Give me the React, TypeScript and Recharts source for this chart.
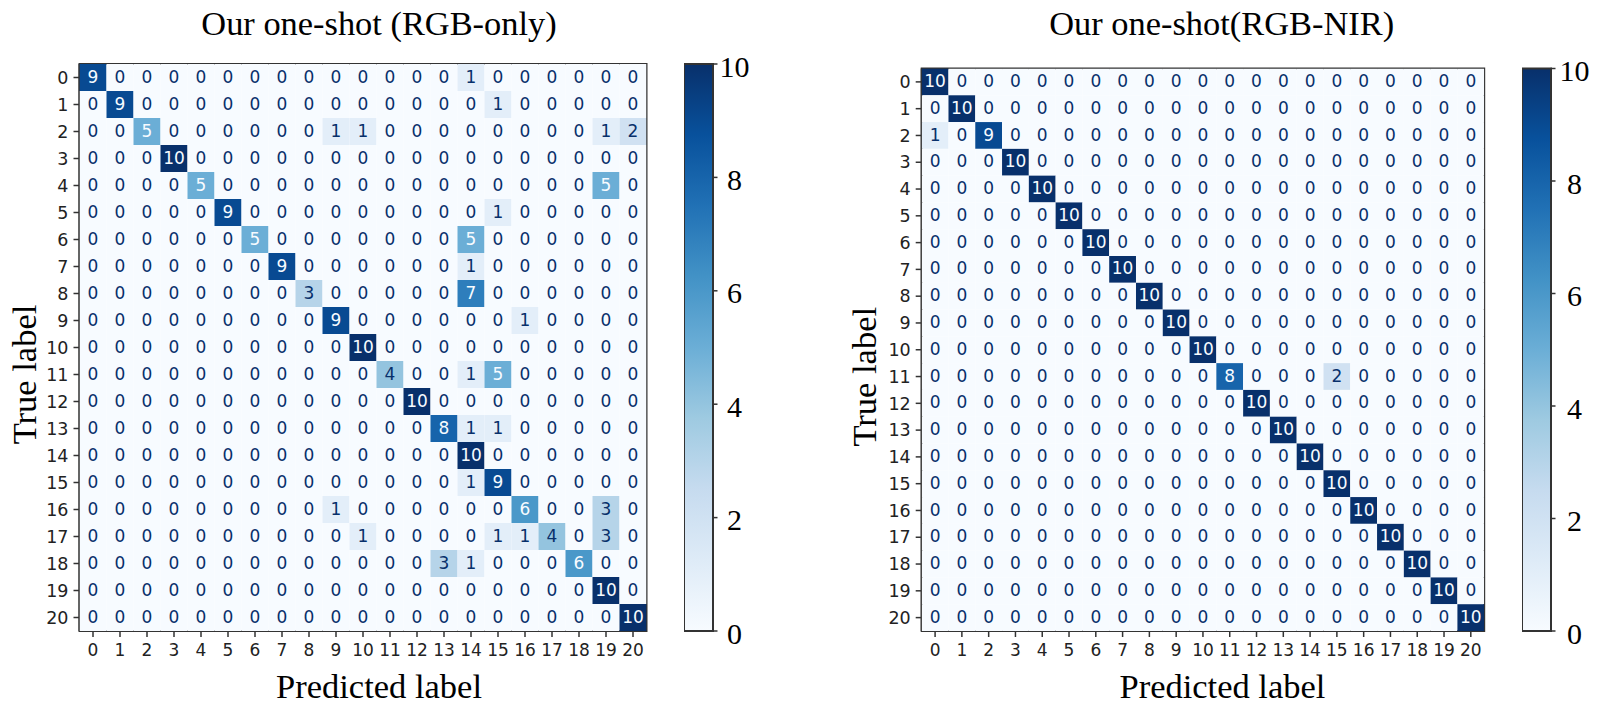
// App.tsx
import React from 'react';
import {
  Bar,
  BarChart,
  ReferenceArea,
  Scatter,
  ScatterChart,
  XAxis,
  YAxis,
} from 'recharts';

const classLabels = [0, 1, 2, 3, 4, 5, 6, 7, 8, 9, 10, 11, 12, 13, 14, 15, 16, 17, 18, 19, 20];
const colorbarTicks = [0, 2, 4, 6, 8, 10];
const colorbarData = [{ name: 'count', value: 10 }];

const rgbOnlyMatrix = [
  [9, 0, 0, 0, 0, 0, 0, 0, 0, 0, 0, 0, 0, 0, 1, 0, 0, 0, 0, 0, 0],
  [0, 9, 0, 0, 0, 0, 0, 0, 0, 0, 0, 0, 0, 0, 0, 1, 0, 0, 0, 0, 0],
  [0, 0, 5, 0, 0, 0, 0, 0, 0, 1, 1, 0, 0, 0, 0, 0, 0, 0, 0, 1, 2],
  [0, 0, 0, 10, 0, 0, 0, 0, 0, 0, 0, 0, 0, 0, 0, 0, 0, 0, 0, 0, 0],
  [0, 0, 0, 0, 5, 0, 0, 0, 0, 0, 0, 0, 0, 0, 0, 0, 0, 0, 0, 5, 0],
  [0, 0, 0, 0, 0, 9, 0, 0, 0, 0, 0, 0, 0, 0, 0, 1, 0, 0, 0, 0, 0],
  [0, 0, 0, 0, 0, 0, 5, 0, 0, 0, 0, 0, 0, 0, 5, 0, 0, 0, 0, 0, 0],
  [0, 0, 0, 0, 0, 0, 0, 9, 0, 0, 0, 0, 0, 0, 1, 0, 0, 0, 0, 0, 0],
  [0, 0, 0, 0, 0, 0, 0, 0, 3, 0, 0, 0, 0, 0, 7, 0, 0, 0, 0, 0, 0],
  [0, 0, 0, 0, 0, 0, 0, 0, 0, 9, 0, 0, 0, 0, 0, 0, 1, 0, 0, 0, 0],
  [0, 0, 0, 0, 0, 0, 0, 0, 0, 0, 10, 0, 0, 0, 0, 0, 0, 0, 0, 0, 0],
  [0, 0, 0, 0, 0, 0, 0, 0, 0, 0, 0, 4, 0, 0, 1, 5, 0, 0, 0, 0, 0],
  [0, 0, 0, 0, 0, 0, 0, 0, 0, 0, 0, 0, 10, 0, 0, 0, 0, 0, 0, 0, 0],
  [0, 0, 0, 0, 0, 0, 0, 0, 0, 0, 0, 0, 0, 8, 1, 1, 0, 0, 0, 0, 0],
  [0, 0, 0, 0, 0, 0, 0, 0, 0, 0, 0, 0, 0, 0, 10, 0, 0, 0, 0, 0, 0],
  [0, 0, 0, 0, 0, 0, 0, 0, 0, 0, 0, 0, 0, 0, 1, 9, 0, 0, 0, 0, 0],
  [0, 0, 0, 0, 0, 0, 0, 0, 0, 1, 0, 0, 0, 0, 0, 0, 6, 0, 0, 3, 0],
  [0, 0, 0, 0, 0, 0, 0, 0, 0, 0, 1, 0, 0, 0, 0, 1, 1, 4, 0, 3, 0],
  [0, 0, 0, 0, 0, 0, 0, 0, 0, 0, 0, 0, 0, 3, 1, 0, 0, 0, 6, 0, 0],
  [0, 0, 0, 0, 0, 0, 0, 0, 0, 0, 0, 0, 0, 0, 0, 0, 0, 0, 0, 10, 0],
  [0, 0, 0, 0, 0, 0, 0, 0, 0, 0, 0, 0, 0, 0, 0, 0, 0, 0, 0, 0, 10],
];

const rgbNirMatrix = [
  [10, 0, 0, 0, 0, 0, 0, 0, 0, 0, 0, 0, 0, 0, 0, 0, 0, 0, 0, 0, 0],
  [0, 10, 0, 0, 0, 0, 0, 0, 0, 0, 0, 0, 0, 0, 0, 0, 0, 0, 0, 0, 0],
  [1, 0, 9, 0, 0, 0, 0, 0, 0, 0, 0, 0, 0, 0, 0, 0, 0, 0, 0, 0, 0],
  [0, 0, 0, 10, 0, 0, 0, 0, 0, 0, 0, 0, 0, 0, 0, 0, 0, 0, 0, 0, 0],
  [0, 0, 0, 0, 10, 0, 0, 0, 0, 0, 0, 0, 0, 0, 0, 0, 0, 0, 0, 0, 0],
  [0, 0, 0, 0, 0, 10, 0, 0, 0, 0, 0, 0, 0, 0, 0, 0, 0, 0, 0, 0, 0],
  [0, 0, 0, 0, 0, 0, 10, 0, 0, 0, 0, 0, 0, 0, 0, 0, 0, 0, 0, 0, 0],
  [0, 0, 0, 0, 0, 0, 0, 10, 0, 0, 0, 0, 0, 0, 0, 0, 0, 0, 0, 0, 0],
  [0, 0, 0, 0, 0, 0, 0, 0, 10, 0, 0, 0, 0, 0, 0, 0, 0, 0, 0, 0, 0],
  [0, 0, 0, 0, 0, 0, 0, 0, 0, 10, 0, 0, 0, 0, 0, 0, 0, 0, 0, 0, 0],
  [0, 0, 0, 0, 0, 0, 0, 0, 0, 0, 10, 0, 0, 0, 0, 0, 0, 0, 0, 0, 0],
  [0, 0, 0, 0, 0, 0, 0, 0, 0, 0, 0, 8, 0, 0, 0, 2, 0, 0, 0, 0, 0],
  [0, 0, 0, 0, 0, 0, 0, 0, 0, 0, 0, 0, 10, 0, 0, 0, 0, 0, 0, 0, 0],
  [0, 0, 0, 0, 0, 0, 0, 0, 0, 0, 0, 0, 0, 10, 0, 0, 0, 0, 0, 0, 0],
  [0, 0, 0, 0, 0, 0, 0, 0, 0, 0, 0, 0, 0, 0, 10, 0, 0, 0, 0, 0, 0],
  [0, 0, 0, 0, 0, 0, 0, 0, 0, 0, 0, 0, 0, 0, 0, 10, 0, 0, 0, 0, 0],
  [0, 0, 0, 0, 0, 0, 0, 0, 0, 0, 0, 0, 0, 0, 0, 0, 10, 0, 0, 0, 0],
  [0, 0, 0, 0, 0, 0, 0, 0, 0, 0, 0, 0, 0, 0, 0, 0, 0, 10, 0, 0, 0],
  [0, 0, 0, 0, 0, 0, 0, 0, 0, 0, 0, 0, 0, 0, 0, 0, 0, 0, 10, 0, 0],
  [0, 0, 0, 0, 0, 0, 0, 0, 0, 0, 0, 0, 0, 0, 0, 0, 0, 0, 0, 10, 0],
  [0, 0, 0, 0, 0, 0, 0, 0, 0, 0, 0, 0, 0, 0, 0, 0, 0, 0, 0, 0, 10],
];

// matplotlib "Blues", evenly spaced
const blues = ['#f7fbff', '#deebf7', '#c6dbef', '#9ecae1', '#6baed6', '#4292c6', '#2171b5', '#08519c', '#08306b'];

const SERIF = '"Liberation Serif", serif';
const SANS = '"DejaVu Sans", sans-serif';
const FRAME = '#333';

const hex = (c: string, i: number) => parseInt(c.slice(1 + i * 2, 3 + i * 2), 16);

const bluesColor = (value: number) => {
  const t = (value / 10) * (blues.length - 1);
  const lo = Math.min(Math.floor(t), blues.length - 2);
  const f = t - lo;
  const rgb = [0, 1, 2].map((i) => Math.round(hex(blues[lo], i) * (1 - f) + hex(blues[lo + 1], i) * f));
  return `rgb(${rgb.join(',')})`;
};

const toCells = (matrix: number[][]) =>
  matrix.flatMap((row, y) => row.map((count, x) => ({ x, y, count })));

interface PanelProps {
  title: string;
  matrix: number[][];
  left: number;
  top: number;
  plotLeft: number;
  plotSize: number;
  titleX: number;
  xLabelDx: number;
}

const CHART_W = 680;
const CHART_H = 712;

const Panel: React.FC<PanelProps> = ({ title, matrix, left, top, plotLeft, plotSize, titleX, xLabelDx }) => {
  const pitch = plotSize / 21;

  const renderCell = (props: any) => {
    const { cx, cy, payload } = props;
    return (
      <g>
        <rect x={cx - pitch / 2} y={cy - pitch / 2} width={pitch} height={pitch} fill={bluesColor(payload.count)} />
        <text
          x={cx}
          y={cy}
          dy="0.3em"
          textAnchor="middle"
          fontFamily={SANS}
          fontSize={17}
          fill={payload.count >= 5 ? '#f7fbff' : '#08306b'}
        >
          {payload.count}
        </text>
      </g>
    );
  };

  return (
    <div style={{ position: 'absolute', left, top: 0 }}>
      <ScatterChart
        width={CHART_W}
        height={CHART_H}
        margin={{ top, right: CHART_W - plotLeft - plotSize, bottom: 0, left: 0 }}
      >
        <XAxis
          type="number"
          dataKey="x"
          domain={[-0.5, 20.5]}
          allowDataOverflow
          ticks={classLabels}
          interval={0}
          height={CHART_H - top - plotSize}
          axisLine={{ stroke: FRAME, strokeWidth: 2 }}
          tickLine={{ stroke: FRAME, strokeWidth: 1.5 }}
          tickSize={6}
          tickMargin={7}
          tick={{ fontFamily: SANS, fontSize: 17, fill: '#222' }}
          label={{
            value: 'Predicted label',
            position: 'insideTop',
            dx: xLabelDx,
            dy: 38,
            style: { fontFamily: SERIF, fontSize: 34.5, fill: '#000' },
          }}
        />
        <YAxis
          type="number"
          dataKey="y"
          reversed
          domain={[-0.5, 20.5]}
          allowDataOverflow
          ticks={classLabels}
          interval={0}
          width={plotLeft}
          axisLine={{ stroke: FRAME, strokeWidth: 2 }}
          tickLine={{ stroke: FRAME, strokeWidth: 1.5 }}
          tickSize={6}
          tickMargin={5}
          tick={{ fontFamily: SANS, fontSize: 17.5, fill: '#222' }}
          label={{
            value: 'True label',
            angle: -90,
            position: 'insideLeft',
            dx: 19,
            dy: 27,
            style: { fontFamily: SERIF, fontSize: 34.5, fill: '#000', textAnchor: 'middle' },
          }}
        />
        <Scatter data={toCells(matrix)} shape={renderCell} isAnimationActive={false} />
        <ReferenceArea x1={-0.5} x2={20.5} y1={-0.5} y2={20.5} fill="none" stroke={FRAME} strokeWidth={2} />
        <text x={titleX} y={35} textAnchor="middle" fontFamily={SERIF} fontSize={34.4} fill="#000">
          {title}
        </text>
      </ScatterChart>
    </div>
  );
};

interface ColorbarProps {
  id: string;
  left: number;
  top: number;
  labelGap: number;
}

const COLORBAR_W = 78;
const COLORBAR_BAR = 28.5;
const COLORBAR_BOTTOM = 631;

const Colorbar: React.FC<ColorbarProps> = ({ id, left, top, labelGap }) => (
  <div style={{ position: 'absolute', left, top: 0 }}>
    <BarChart
      width={COLORBAR_W}
      height={CHART_H}
      data={colorbarData}
      barCategoryGap={0}
      margin={{ top, right: 0, bottom: CHART_H - COLORBAR_BOTTOM, left: 0 }}
    >
      <defs>
        <linearGradient id={id} x1="0" y1="1" x2="0" y2="0">
          {blues.map((color, i) => (
            <stop key={color} offset={i / (blues.length - 1)} stopColor={color} />
          ))}
        </linearGradient>
      </defs>
      <XAxis dataKey="name" hide />
      <YAxis
        orientation="right"
        domain={[0, 10]}
        ticks={colorbarTicks}
        interval={0}
        width={COLORBAR_W - COLORBAR_BAR}
        axisLine={false}
        tickLine={{ stroke: FRAME, strokeWidth: 1.5 }}
        tickSize={5}
        tick={(p: any) => (
          <text
            x={COLORBAR_BAR + labelGap}
            y={p.y}
            dy="0.42em"
            textAnchor="middle"
            fontFamily={SERIF}
            fontSize={30}
            fill="#000"
          >
            {p.payload.value}
          </text>
        )}
      />
      <Bar dataKey="value" fill={`url(#${id})`} stroke={FRAME} strokeWidth={2} isAnimationActive={false} />
    </BarChart>
  </div>
);

const App: React.FC = () => (
  <div style={{ position: 'absolute', left: 0, top: 0, width: 1600, height: 712, background: '#fff', overflow: 'hidden' }}>
    <Panel
      title="Our one-shot (RGB-only)"
      matrix={rgbOnlyMatrix}
      left={0}
      top={64}
      plotLeft={79.5}
      plotSize={567}
      titleX={379}
      xLabelDx={16}
    />
    <Colorbar id="cbLeft" left={684} top={64} labelGap={22} />
    <Panel
      title="Our one-shot(RGB-NIR)"
      matrix={rgbNirMatrix}
      left={840}
      top={68.5}
      plotLeft={81.7}
      plotSize={562.5}
      titleX={381.7}
      xLabelDx={19.5}
    />
    <Colorbar id="cbRight" left={1521.5} top={68.5} labelGap={24} />
  </div>
);

export default App;
